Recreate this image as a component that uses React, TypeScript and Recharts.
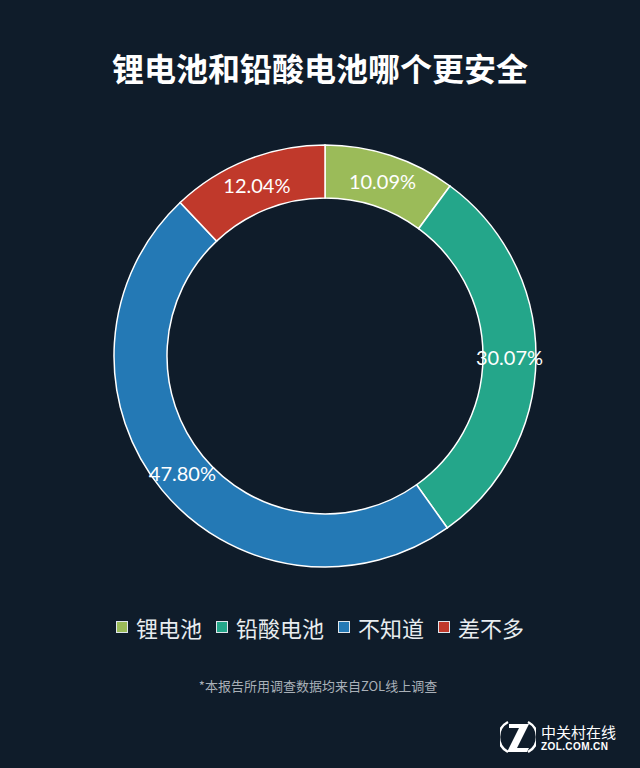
import React from 'react';
import { PieChart, Pie, Cell, Legend } from 'recharts';

const categories = ['锂电池', '铅酸电池', '不知道', '差不多'];
const shares = [10.09, 30.07, 47.8, 12.04];
const COLORS = ['#9bbb59', '#24a68a', '#2479b5', '#c0392b'];

const data = categories.map((name, i) => ({ name, value: shares[i] }));

const RADIAN = Math.PI / 180;
const BG = '#0f1c2a';

const renderLabel = (props: any) => {
  const { cx, cy, midAngle, innerRadius, outerRadius, value } = props;
  const r = (innerRadius + outerRadius) / 2;
  const x = cx + r * Math.cos(-midAngle * RADIAN);
  const y = cy + r * Math.sin(-midAngle * RADIAN);
  return (
    <text
      x={x}
      y={y}
      fill="#ffffff"
      textAnchor="middle"
      dominantBaseline="central"
      fontFamily="Lato, sans-serif"
      fontSize={20}
    >
      {`${Number(value).toFixed(2)}%`}
    </text>
  );
};

function LegendContent({ payload }: any) {
  // keep the series order of the data, whatever order the legend payload comes in
  const items = categories.map((c, i) => {
    const p = (payload || []).find((q: any) => q.value === c);
    return { value: c, color: p?.color ?? COLORS[i] };
  });
  return (
    <div style={{ display: 'flex', justifyContent: 'center', alignItems: 'center', gap: 14 }}>
      {items.map((p, i) => (
        <div key={i} style={{ display: 'flex', alignItems: 'center' }}>
          <span
            style={{
              display: 'inline-block',
              width: 12,
              height: 12,
              background: COLORS[i],
              border: '1px solid #dfe6ec',
              boxSizing: 'border-box',
              marginRight: 8,
            }}
          />
          <span style={{ color: '#e8ecef', fontSize: 22, lineHeight: '30px', fontFamily: '"Noto Sans CJK SC", sans-serif' }}>
            {p.value}
          </span>
        </div>
      ))}
    </div>
  );
}

function ZolLogo() {
  return (
    <div style={{ position: 'absolute', left: 500, top: 718, width: 130, height: 40 }}>
      <svg width={36} height={38} viewBox="0 0 36 38" style={{ position: 'absolute', left: 0, top: 0 }}>
        <path d="M8 4 A17 17 0 0 0 8 34" stroke="#ffffff" strokeWidth={2.5} fill="none" />
        <path d="M28 4 A17 17 0 0 1 28 34" stroke="#ffffff" strokeWidth={2.5} fill="none" />
        <path d="M9 6 L29 6 L17 30 L29 30 L27 34 L7 34 L19 10 L9 10 Z" fill="#ffffff" />
      </svg>
      <div
        style={{
          position: 'absolute',
          left: 41,
          top: 6,
          color: '#ffffff',
          fontSize: 15,
          lineHeight: '16px',
          fontFamily: '"Noto Sans CJK SC", sans-serif',
          whiteSpace: 'nowrap',
        }}
      >
        中关村在线
      </div>
      <div
        style={{
          position: 'absolute',
          left: 41,
          top: 23,
          color: '#ffffff',
          fontSize: 10,
          lineHeight: '11px',
          fontWeight: 700,
          fontFamily: '"Liberation Sans", Arial, sans-serif',
          letterSpacing: 0.4,
          whiteSpace: 'nowrap',
        }}
      >
        ZOL.COM.CN
      </div>
    </div>
  );
}

export default function App() {
  return (
    <div style={{ position: 'fixed', left: 0, top: 0, width: 640, height: 768, background: BG, overflow: 'hidden' }}>
      <div
        style={{
          position: 'absolute',
          top: 45,
          left: 0,
          width: 640,
          textAlign: 'center',
          color: '#ffffff',
          fontSize: 32,
          fontWeight: 700,
          lineHeight: '44px',
          fontFamily: '"Noto Sans CJK SC", sans-serif',
        }}
      >
        锂电池和铅酸电池哪个更安全
      </div>
      <PieChart
        width={640}
        height={768}
        margin={{ top: 0, right: 0, bottom: 0, left: 0 }}
        style={{ position: 'absolute', left: 0, top: 0 }}
      >
        <Pie
          data={data}
          dataKey="value"
          nameKey="name"
          cx={325}
          cy={356}
          innerRadius={158}
          outerRadius={211}
          startAngle={90}
          endAngle={-270}
          stroke="#ffffff"
          strokeWidth={1.5}
          label={renderLabel}
          labelLine={false}
          isAnimationActive={false}
        >
          {data.map((_, i) => (
            <Cell key={i} fill={COLORS[i]} />
          ))}
        </Pie>
        <Legend
          content={<LegendContent />}
          wrapperStyle={{ position: 'absolute', top: 612, left: 0, width: 640 }}
        />
      </PieChart>
      <div
        style={{
          position: 'absolute',
          top: 677,
          left: 0,
          width: 636,
          textAlign: 'center',
          color: '#a9b0b8',
          fontSize: 13,
          lineHeight: '18px',
          fontFamily: '"Noto Sans CJK SC", sans-serif',
        }}
      >
        *本报告所用调查数据均来自ZOL线上调查
      </div>
      <ZolLogo />
    </div>
  );
}
